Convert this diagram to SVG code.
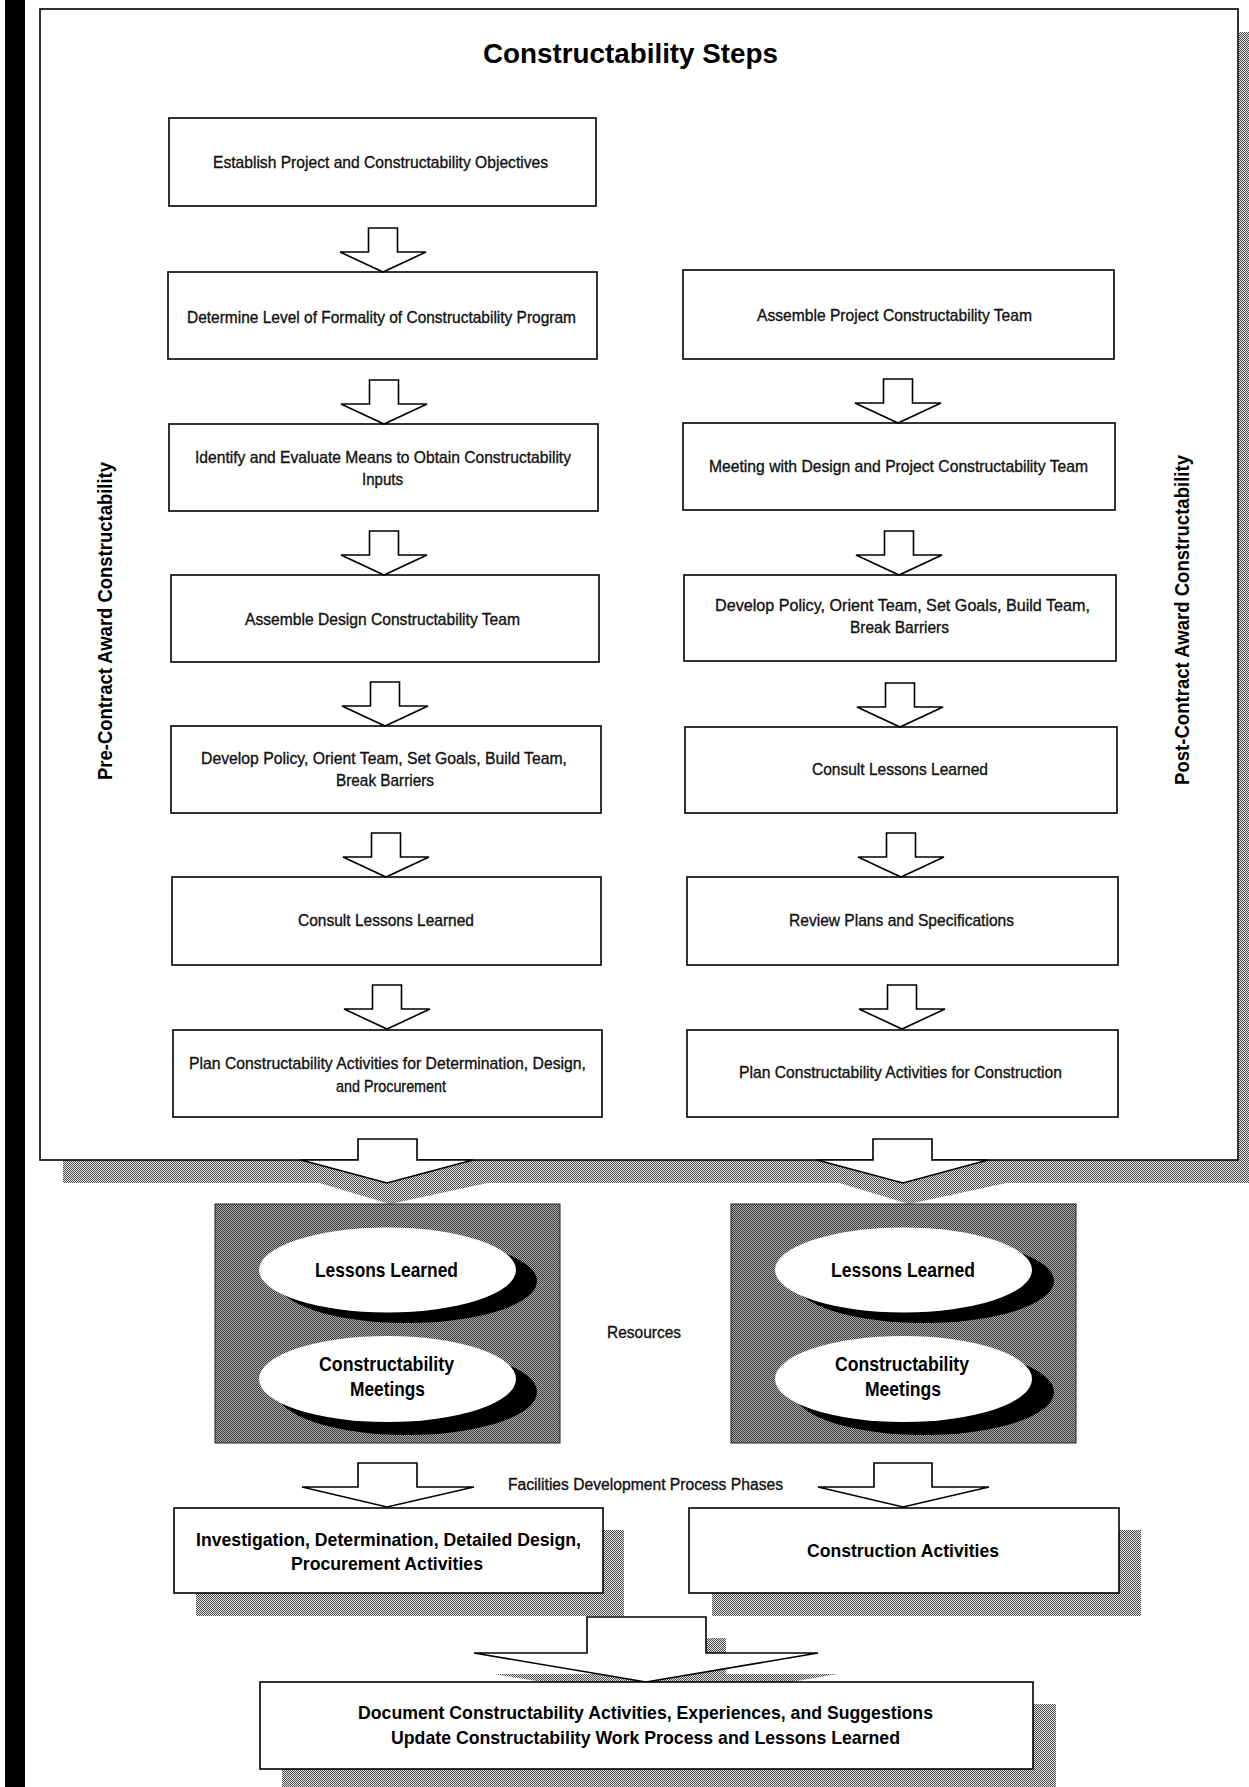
<svg xmlns="http://www.w3.org/2000/svg" width="1249" height="1787" viewBox="0 0 1249 1787">
  <defs>
    <!-- dithered greys for shadows and resource panels -->
    <pattern id="ditherLight" width="2" height="2" patternUnits="userSpaceOnUse">
      <rect width="2" height="2" fill="#e6e6e6"/>
      <rect width="1" height="1" fill="#4a4a4a"/>
      <rect x="1" y="1" width="1" height="1" fill="#4a4a4a"/>
    </pattern>
    <pattern id="ditherDark" width="2" height="2" patternUnits="userSpaceOnUse">
      <rect width="2" height="2" fill="#b0b0b0"/>
      <rect width="1" height="1" fill="#383838"/>
      <rect x="1" y="1" width="1" height="1" fill="#383838"/>
    </pattern>
    <!-- block arrow, tip at origin -->
    <path id="smallArrow" d="M-14.5,-44 H14.5 V-20 H43 L0,0 L-43,-20 H-14.5 Z"/>
    <style>
      .box { fill: #fff; stroke: #000; stroke-width: 1.6; }
      .shadow { fill: url(#ditherLight); }
      .panel { fill: url(#ditherDark); stroke: #222; stroke-width: 1; }
      .arrow { fill: #fff; stroke: #000; stroke-width: 1.6; stroke-linejoin: miter; }
      .t { font-family: "Liberation Sans Narrow", "Liberation Sans", Arial, sans-serif; font-size: 17px; fill: #111; stroke: #111; stroke-width: 0.35; }
      .b { font-family: "Liberation Sans Narrow", "Liberation Sans", Arial, sans-serif; font-weight: bold; fill: #000; }
      .title { font-size: 28px; }
      .side { font-size: 20px; }
      .oval { font-size: 21px; }
      .phase { font-size: 19px; }
      .note { font-size: 16px; }
    </style>
  </defs>

  <rect width="1249" height="1787" fill="#fff"/>

  <!-- binding strip on the left edge -->
  <rect x="5" y="0" width="20" height="1787" fill="#000"/>

  <!-- frame drop shadow -->
  <g id="frame-shadow">
    <rect class="shadow" x="63" y="1160" width="1186" height="23"/>
    <rect class="shadow" x="1239" y="32" width="10" height="1151"/>
    <polygon class="shadow" points="316,1182 492,1182 390,1204"/>
    <polygon class="shadow" points="836,1182 1011,1182 909,1204"/>
  </g>

  <!-- outer frame -->
  <g id="frame">
    <rect x="40" y="9" width="1198" height="1151" fill="#fff" stroke="#000" stroke-width="1.6"/>
    <text class="b title" x="483" y="63" textLength="295" lengthAdjust="spacingAndGlyphs">Constructability Steps</text>
  </g>

  <g id="label-pre">
    <text class="b side" transform="translate(112,780) rotate(-90)" textLength="318" lengthAdjust="spacingAndGlyphs">Pre-Contract Award Constructability</text>
  </g>
  <g id="label-post">
    <text class="b side" transform="translate(1189,785) rotate(-90)" textLength="330" lengthAdjust="spacingAndGlyphs">Post-Contract Award Constructability</text>
  </g>

  <!-- pre-contract column -->
  <g id="pre-1">
    <rect class="box" x="169" y="118" width="427" height="88"/>
    <text class="t" x="213" y="168" textLength="335" lengthAdjust="spacingAndGlyphs">Establish Project and Constructability Objectives</text>
  </g>
  <g id="pre-2">
    <rect class="box" x="168" y="272" width="429" height="87"/>
    <text class="t" x="187" y="323" textLength="389" lengthAdjust="spacingAndGlyphs">Determine Level of Formality of Constructability Program</text>
  </g>
  <g id="pre-3">
    <rect class="box" x="169" y="424" width="429" height="87"/>
    <text class="t" x="195" y="463" textLength="376" lengthAdjust="spacingAndGlyphs">Identify and Evaluate Means to Obtain Constructability</text>
    <text class="t" x="362" y="485" textLength="41" lengthAdjust="spacingAndGlyphs">Inputs</text>
  </g>
  <g id="pre-4">
    <rect class="box" x="171" y="575" width="428" height="87"/>
    <text class="t" x="245" y="625" textLength="275" lengthAdjust="spacingAndGlyphs">Assemble Design Constructability Team</text>
  </g>
  <g id="pre-5">
    <rect class="box" x="171" y="726" width="430" height="87"/>
    <text class="t" x="201" y="764" textLength="366" lengthAdjust="spacingAndGlyphs">Develop Policy, Orient Team, Set Goals, Build Team,</text>
    <text class="t" x="336" y="786" textLength="98" lengthAdjust="spacingAndGlyphs">Break Barriers</text>
  </g>
  <g id="pre-6">
    <rect class="box" x="172" y="877" width="429" height="88"/>
    <text class="t" x="298" y="926" textLength="176" lengthAdjust="spacingAndGlyphs">Consult Lessons Learned</text>
  </g>
  <g id="pre-7">
    <rect class="box" x="173" y="1030" width="429" height="87"/>
    <text class="t" x="189" y="1069" textLength="397" lengthAdjust="spacingAndGlyphs">Plan Constructability Activities for Determination, Design,</text>
    <text class="t" x="336" y="1092" textLength="110" lengthAdjust="spacingAndGlyphs">and Procurement</text>
  </g>

  <!-- post-contract column -->
  <g id="post-1">
    <rect class="box" x="683" y="270" width="431" height="89"/>
    <text class="t" x="757" y="321" textLength="275" lengthAdjust="spacingAndGlyphs">Assemble Project Constructability Team</text>
  </g>
  <g id="post-2">
    <rect class="box" x="683" y="423" width="432" height="87"/>
    <text class="t" x="709" y="472" textLength="379" lengthAdjust="spacingAndGlyphs">Meeting with Design and Project Constructability Team</text>
  </g>
  <g id="post-3">
    <rect class="box" x="684" y="575" width="432" height="86"/>
    <text class="t" x="715" y="611" textLength="375" lengthAdjust="spacingAndGlyphs">Develop Policy, Orient Team, Set Goals, Build Team,</text>
    <text class="t" x="850" y="633" textLength="99" lengthAdjust="spacingAndGlyphs">Break Barriers</text>
  </g>
  <g id="post-4">
    <rect class="box" x="685" y="727" width="432" height="86"/>
    <text class="t" x="812" y="775" textLength="176" lengthAdjust="spacingAndGlyphs">Consult Lessons Learned</text>
  </g>
  <g id="post-5">
    <rect class="box" x="687" y="877" width="431" height="88"/>
    <text class="t" x="789" y="926" textLength="225" lengthAdjust="spacingAndGlyphs">Review Plans and Specifications</text>
  </g>
  <g id="post-6">
    <rect class="box" x="687" y="1030" width="431" height="87"/>
    <text class="t" x="739" y="1078" textLength="323" lengthAdjust="spacingAndGlyphs">Plan Constructability Activities for Construction</text>
  </g>

  <!-- resource panels -->
  <g id="resources-pre">
    <rect class="panel" x="215" y="1204" width="345" height="239"/>
    <ellipse cx="407" cy="1281" rx="130" ry="42" fill="#000"/>
    <ellipse cx="387.5" cy="1270" rx="128.5" ry="42.5" fill="#fff"/>
    <text class="b oval" x="315" y="1277" textLength="143" lengthAdjust="spacingAndGlyphs">Lessons Learned</text>
    <ellipse cx="407" cy="1392" rx="130" ry="43" fill="#000"/>
    <ellipse cx="387.5" cy="1379" rx="128.5" ry="43" fill="#fff"/>
    <text class="b oval" x="319" y="1371" textLength="135" lengthAdjust="spacingAndGlyphs">Constructability</text>
    <text class="b oval" x="350" y="1396" textLength="75" lengthAdjust="spacingAndGlyphs">Meetings</text>
  </g>
  <g id="resources-post">
    <rect class="panel" x="731" y="1204" width="345" height="239"/>
    <ellipse cx="924" cy="1281" rx="130" ry="42" fill="#000"/>
    <ellipse cx="903.5" cy="1270" rx="128.5" ry="42.5" fill="#fff"/>
    <text class="b oval" x="831" y="1277" textLength="144" lengthAdjust="spacingAndGlyphs">Lessons Learned</text>
    <ellipse cx="924" cy="1392" rx="130" ry="43" fill="#000"/>
    <ellipse cx="903.5" cy="1379" rx="128.5" ry="43" fill="#fff"/>
    <text class="b oval" x="835" y="1371" textLength="134" lengthAdjust="spacingAndGlyphs">Constructability</text>
    <text class="b oval" x="865" y="1396" textLength="76" lengthAdjust="spacingAndGlyphs">Meetings</text>
  </g>

  <g id="label-resources">
    <text class="t note" x="607" y="1338" textLength="74" lengthAdjust="spacingAndGlyphs">Resources</text>
  </g>
  <g id="label-phases">
    <text class="t note" x="508" y="1490" textLength="275" lengthAdjust="spacingAndGlyphs">Facilities Development Process Phases</text>
  </g>

  <!-- phase boxes -->
  <g id="phase-pre">
    <rect class="shadow" x="196" y="1530" width="428" height="86"/>
    <rect class="box" x="174" y="1508" width="429" height="85"/>
    <text class="b phase" x="196" y="1546" textLength="385" lengthAdjust="spacingAndGlyphs">Investigation, Determination, Detailed Design,</text>
    <text class="b phase" x="291" y="1570" textLength="192" lengthAdjust="spacingAndGlyphs">Procurement Activities</text>
  </g>
  <g id="phase-post">
    <rect class="shadow" x="712" y="1530" width="429" height="86"/>
    <rect class="box" x="689" y="1508" width="430" height="85"/>
    <text class="b phase" x="807" y="1557" textLength="192" lengthAdjust="spacingAndGlyphs">Construction Activities</text>
  </g>

  <!-- connectors -->
  <g id="connectors">
    <use href="#smallArrow" class="arrow" x="383" y="272"/>
    <use href="#smallArrow" class="arrow" x="384" y="424"/>
    <use href="#smallArrow" class="arrow" x="384" y="575"/>
    <use href="#smallArrow" class="arrow" x="385" y="726"/>
    <use href="#smallArrow" class="arrow" x="386" y="877"/>
    <use href="#smallArrow" class="arrow" x="387" y="1029"/>

    <use href="#smallArrow" class="arrow" x="898" y="423"/>
    <use href="#smallArrow" class="arrow" x="899" y="575"/>
    <use href="#smallArrow" class="arrow" x="900" y="727"/>
    <use href="#smallArrow" class="arrow" x="901" y="877"/>
    <use href="#smallArrow" class="arrow" x="902" y="1029"/>

    <!-- out of the frame into the resource panels -->
    <path class="arrow" d="M358,1139 H417 V1160 H473 L387,1183 L301,1160 H358 Z"/>
    <path class="arrow" d="M873,1139 H932 V1160 H988 L903,1183 L817,1160 H873 Z"/>

    <!-- resource panels into the phase boxes -->
    <path class="arrow" d="M358,1463 H417 V1487 H474 L387,1507 L302,1487 H358 Z"/>
    <path class="arrow" d="M874,1463 H932 V1487 H989 L903,1507 L818,1487 H874 Z"/>

    <!-- phases into the final step -->
    <path class="shadow" d="M607,1638 H726 V1674 H838 L666,1703 L494,1674 H607 Z"/>
    <path class="arrow" d="M587,1617 H706 V1653 H818 L646,1682 L474,1653 H587 Z"/>
  </g>

  <!-- final step -->
  <g id="document-update">
    <rect class="shadow" x="282" y="1704" width="774" height="83"/>
    <rect class="box" x="260" y="1682" width="773" height="87"/>
    <text class="b phase" x="358" y="1719" textLength="575" lengthAdjust="spacingAndGlyphs">Document Constructability Activities, Experiences, and Suggestions</text>
    <text class="b phase" x="391" y="1744" textLength="509" lengthAdjust="spacingAndGlyphs">Update Constructability Work Process and Lessons Learned</text>
  </g>
</svg>
